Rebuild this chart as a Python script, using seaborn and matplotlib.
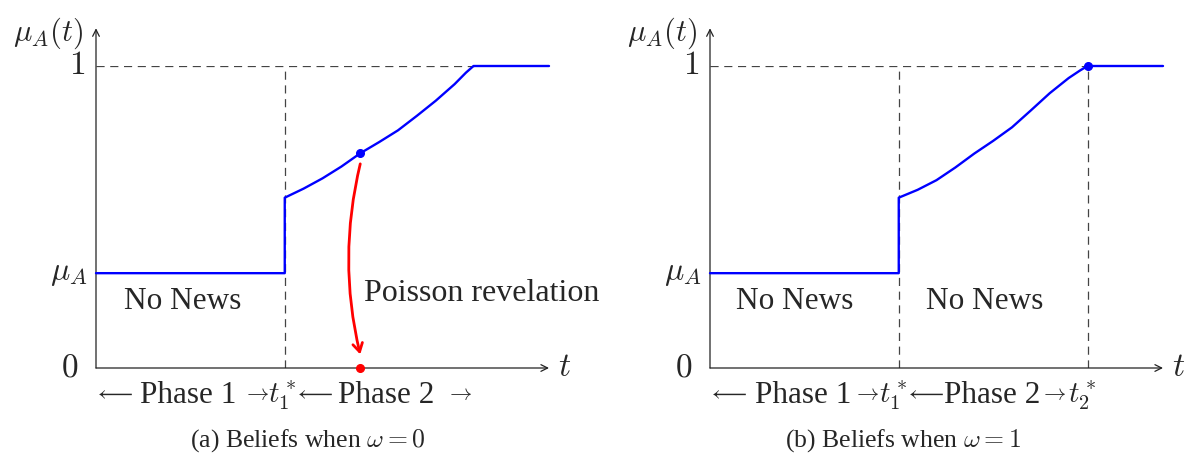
import numpy as np
import pandas as pd
import matplotlib
matplotlib.use("Agg")
import matplotlib.pyplot as plt
import seaborn as sns
from matplotlib.patches import FancyArrowPatch

# belief paths (t in units of t1*, mu in [0, 1])
mu_prior = 0.314
t_a = [0.0, 1.0, 1.0, 1.1, 1.2, 1.3, 1.4, 1.5, 1.6, 1.7, 1.8, 1.9, 1.96, 2.0, 2.4]
mu_a = [0.314, 0.314, 0.564, 0.594, 0.628, 0.667, 0.711, 0.748, 0.787, 0.835, 0.885, 0.940, 0.978, 1.0, 1.0]
t_b = [0.0, 1.0, 1.0, 1.1, 1.2, 1.3, 1.4, 1.5, 1.6, 1.7, 1.8, 1.9, 1.96, 2.0, 2.4]
mu_b = [0.314, 0.314, 0.564, 0.590, 0.622, 0.664, 0.710, 0.752, 0.797, 0.853, 0.910, 0.960, 0.985, 1.0, 1.0]

t1_star = 1.0
t2_star = 2.0
jump_a = (1.4, 0.711)   # point where the Poisson news arrives
dot_b = (2.0, 1.0)

captions = [r"(a) Beliefs when $\omega = 0$", r"(b) Beliefs when $\omega = 1$"]
# (label, x centre, font size)
phase_a = [(r"$\longleftarrow$", 0.095, 16), ("Phase 1", 0.49, 22.5), (r"$\rightarrow$", 0.848, 16),
           (r"$t_1^*$", 0.985, 21), (r"$\longleftarrow$", 1.152, 16), ("Phase 2", 1.54, 22.5),
           (r"$\rightarrow$", 1.925, 16)]
phase_b = [(r"$\longleftarrow$", 0.093, 16), ("Phase 1", 0.495, 22.5), (r"$\rightarrow$", 0.83, 16),
           (r"$t_1^*$", 0.968, 21), (r"$\longleftarrow$", 1.14, 16), ("Phase 2", 1.495, 22.5),
           (r"$\rightarrow$", 1.82, 16), (r"$t_2^*$", 1.97, 21)]

sns.set_theme(style="white")
plt.rcParams['font.family'] = ['Liberation Serif', 'DejaVu Serif']
plt.rcParams['mathtext.fontset'] = 'cm'

fig = plt.figure(figsize=(11.85, 4.59), dpi=100)
ax_a = fig.add_axes([96 / 1185, 91 / 459, 453 / 1185, 302 / 459])
ax_b = fig.add_axes([710 / 1185, 91 / 459, 453 / 1185, 302 / 459])

dash = dict(color="#444444", lw=0.9, dashes=(6.5, 4.5))


def base(ax, t, mu, phases, news_xs):
    ax.set_xlim(0, 2.4)
    ax.set_ylim(0, 1)
    ax.axis("off")
    # dashed guides
    ax.plot([0, 2.0], [1, 1], **dash, zorder=1)
    for x in news_xs:
        ax.plot([x, x], [0, 1], **dash, zorder=1)
    # axes with arrows
    ax.annotate("", xy=(2.4, 0), xytext=(0, 0), annotation_clip=False,
                arrowprops=dict(arrowstyle="->", lw=0.9, color="#222222", shrinkA=0, shrinkB=0))
    ax.annotate("", xy=(0, 1.125), xytext=(0, 0), annotation_clip=False,
                arrowprops=dict(arrowstyle="->", lw=0.9, color="#222222", shrinkA=0, shrinkB=0))
    df = pd.DataFrame({"t": t, "mu": mu})
    sns.lineplot(data=df, x="t", y="mu", sort=False, estimator=None, color="blue",
                 lw=1.7, ax=ax, zorder=3)
    ax.lines[-1].set_clip_on(False)
    ax.text(-0.10, 1.0, "$1$", ha="center", va="center", fontsize=24)
    ax.text(-0.145, mu_prior, r"$\mu_A$", ha="center", va="center", fontsize=23)
    ax.text(-0.14, 0.0, "$0$", ha="center", va="center", fontsize=24)
    ax.text(-0.255, 1.11, r"$\mu_A(t)$", ha="center", va="center", fontsize=22)
    ax.text(2.48, 0.0, "$t$", ha="center", va="center", fontsize=24)
    for lab, x, fs in phases:
        ax.text(x, -0.09, lab, ha="center", va="center", fontsize=fs)
    ax.set_xlabel("")
    ax.set_ylabel("")
    return ax


base(ax_a, t_a, mu_a, phase_a, [t1_star])
base(ax_b, t_b, mu_b, phase_b, [t1_star, t2_star])

ax_a.text(1.12, -0.24, captions[0], ha="center", va="center", fontsize=18.5)
ax_b.text(1.02, -0.24, captions[1], ha="center", va="center", fontsize=18.5)

ax_a.text(0.46, 0.22, "No News", ha="center", va="center", fontsize=22.5)
ax_b.text(0.45, 0.22, "No News", ha="center", va="center", fontsize=22.5)
ax_b.text(1.456, 0.22, "No News", ha="center", va="center", fontsize=22.5)
ax_a.text(1.42, 0.248, "Poisson revelation", ha="left", va="center", fontsize=23, clip_on=False)

# news arrival in panel (a)
ax_a.plot([jump_a[0]], [jump_a[1]], "o", color="blue", ms=5.5, zorder=4)
ax_a.plot([jump_a[0]], [0], "o", color="red", ms=5.5, zorder=4, clip_on=False)
arr = FancyArrowPatch((jump_a[0], jump_a[1] - 0.035), (jump_a[0], 0.045),
                      connectionstyle="arc3,rad=0.12",
                      arrowstyle="->,head_length=6,head_width=3.5", color="red", lw=2.0,
                      shrinkA=0, shrinkB=0, zorder=4)
ax_a.add_patch(arr)

ax_b.plot([dot_b[0]], [dot_b[1]], "o", color="blue", ms=5.5, zorder=4, clip_on=False)

fig.savefig("out.png", dpi=100)
